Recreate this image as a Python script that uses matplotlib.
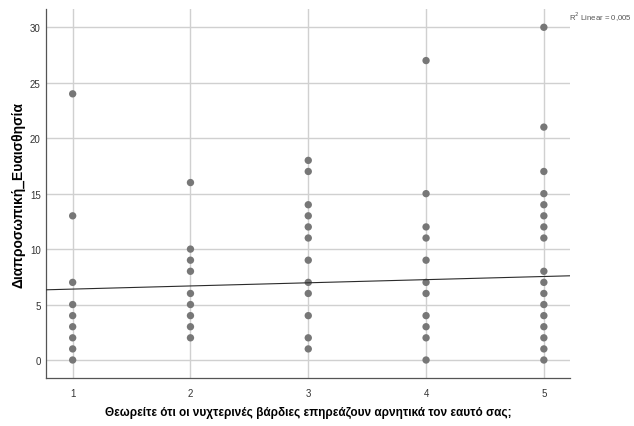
import matplotlib
matplotlib.use("Agg")
import matplotlib.pyplot as plt
import numpy as np

# Data
x_groups = [1, 2, 3, 4, 5]
y_at_1 = [24, 13, 7, 5, 4, 3, 2, 1, 0]
y_at_2 = [16, 10, 9, 8, 6, 5, 4, 3, 2]
y_at_3 = [18, 17, 14, 13, 12, 11, 9, 7, 6, 4, 2, 1]
y_at_4 = [27, 15, 12, 11, 9, 7, 6, 4, 3, 2, 0]
y_at_5 = [30, 21, 17, 15, 14, 13, 12, 11, 8, 7, 6, 5, 4, 3, 2, 1, 0]
fit_intercept = 6.11
fit_slope = 0.284
x_ticks = [1, 2, 3, 4, 5]
y_ticks = [0, 5, 10, 15, 20, 25, 30]
r2_text = "R$^2$ Linear = 0,005"
xlabel = "Θεωρείτε ότι οι νυχτερινές βάρδιες επηρεάζουν αρνητικά τον εαυτό σας;"
ylabel = "Διαπροσωπική_Ευαισθησία"

plt.rcParams['font.family'] = ['Liberation Sans', 'DejaVu Sans']

fig = plt.figure(figsize=(6.34, 4.27), dpi=100)
ax = fig.add_axes([0.073, 0.1117, 0.8257, 0.8649])

groups = [y_at_1, y_at_2, y_at_3, y_at_4, y_at_5]
xs, ys = [], []
for xv, g in zip(x_groups, groups):
    xs += [xv] * len(g)
    ys += g
ax.scatter(xs, ys, s=28, color='#777777', edgecolors='none', zorder=3)

xl = np.array([0.776, 5.22])
ax.plot(xl, fit_intercept + fit_slope * xl, color='#2b2b2b', lw=0.8, zorder=4)

ax.set_xlim(0.776, 5.22)
ax.set_ylim(-1.65, 31.65)
ax.set_xticks(x_ticks)
ax.set_yticks(y_ticks)
ax.grid(True, color='#d0d0d0', lw=1.0, zorder=0)
ax.set_axisbelow(True)
for s in ['top', 'right']:
    ax.spines[s].set_visible(False)
for s in ['left', 'bottom']:
    ax.spines[s].set_color('#555555')
    ax.spines[s].set_linewidth(0.9)
ax.tick_params(axis='both', labelsize=7, colors='#333333', length=0)
ax.tick_params(axis='y', pad=4)
ax.tick_params(axis='x', pad=7)

ax.set_xlabel(xlabel, fontsize=8.5, fontweight='bold')
ax.set_ylabel(ylabel, fontsize=10, fontweight='bold')
ax.xaxis.set_label_coords(0.5, -0.091)
ax.yaxis.set_label_coords(-0.054, 0.5)
ax.xaxis.label.set_va('center')
ax.yaxis.label.set_va('center')

fig.text(0.897, 0.96, r2_text, fontsize=5.6, color='#555555', ha='left', va='center')

fig.savefig("out.png", dpi=100)
